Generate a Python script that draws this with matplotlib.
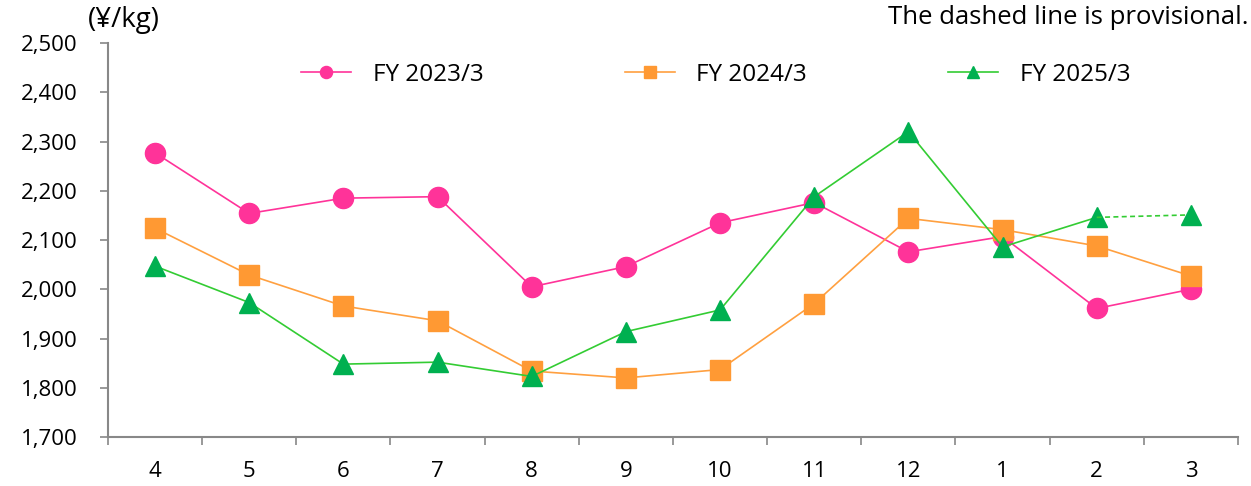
import numpy as np
from matplotlib import pyplot as plt

months = ["4", "5", "6", "7", "8", "9", "10", "11", "12", "1", "2", "3"]
fy2023 = [2277, 2154, 2185, 2188, 2005, 2046, 2135, 2176, 2076, 2107, 1961, 2000]
fy2024 = [2124, 2029, 1966, 1936, 1834, 1820, 1837, 1971, 2144, 2121, 2088, 2027]
fy2025 = [2047, 1973, 1848, 1852, 1823, 1914, 1958, 2188, 2320, 2086, 2146, 2151]
# last point of FY 2025/3 is provisional (dashed)
n_fixed = 11

plt.rcParams["font.family"] = ["Open Sans", "DejaVu Sans"]

fig = plt.figure(figsize=(12.51, 4.86), dpi=100)
ax = fig.add_axes([0.0863, 0.1008, 0.9033, 0.8107])

x = np.arange(len(months))
ms = 14.5

ax.plot(x, fy2023, "-", color="#FF3399", lw=1.2, marker="o", ms=ms,
        mfc="#FF3399", mec="#FF3399", label="FY 2023/3", zorder=3)
ax.plot(x, fy2024, "-", color="#FFA040", lw=1.2, marker="s", ms=ms,
        mfc="#FF9933", mec="#FF9933", label="FY 2024/3", zorder=3)
ax.plot(x[:n_fixed], fy2025[:n_fixed], "-", color="#33CC33", lw=1.2, marker="^", ms=ms,
        mfc="#00B050", mec="#00B050", label="FY 2025/3", zorder=4)
ax.plot(x[n_fixed - 1:], fy2025[n_fixed - 1:], "--", color="#33CC33", lw=1.2,
        dashes=(3, 2), zorder=4)
ax.plot(x[n_fixed:], fy2025[n_fixed:], "^", ms=ms, mfc="#00B050", mec="#00B050", zorder=4)

ax.set_xlim(-0.5, len(months) - 0.5)
ax.set_ylim(1700, 2500)
ax.set_yticks(np.arange(1700, 2501, 100))
ax.set_yticklabels([f"{v:,}" for v in range(1700, 2501, 100)], fontsize=16)
ax.set_xticks(x)
ax.set_xticklabels(months, fontsize=16)
ax.set_xticks(np.arange(-0.5, len(months)), minor=True)
ax.tick_params(axis="x", which="major", length=0, pad=17)
ax.tick_params(axis="x", which="minor", length=6, color="#888888", width=1.2)
ax.tick_params(axis="y", length=6, color="#888888", width=1.2, pad=16)

for s in ["top", "right"]:
    ax.spines[s].set_visible(False)
for s in ["left", "bottom"]:
    ax.spines[s].set_color("#888888")
    ax.spines[s].set_linewidth(1.5)

ax.legend(loc="center", bbox_to_anchor=(0.538, 0.919), ncol=3, frameon=False,
          fontsize=17.5, markerscale=0.6, columnspacing=5.8, handlelength=2.05,
          handletextpad=0.9)

fig.text(0.070, 0.958, "(¥/kg)", fontsize=20, ha="left", va="center")
fig.text(0.998, 0.963, "The dashed line is provisional.", fontsize=18.5, ha="right", va="center")

fig.savefig("out.png", dpi=100)
